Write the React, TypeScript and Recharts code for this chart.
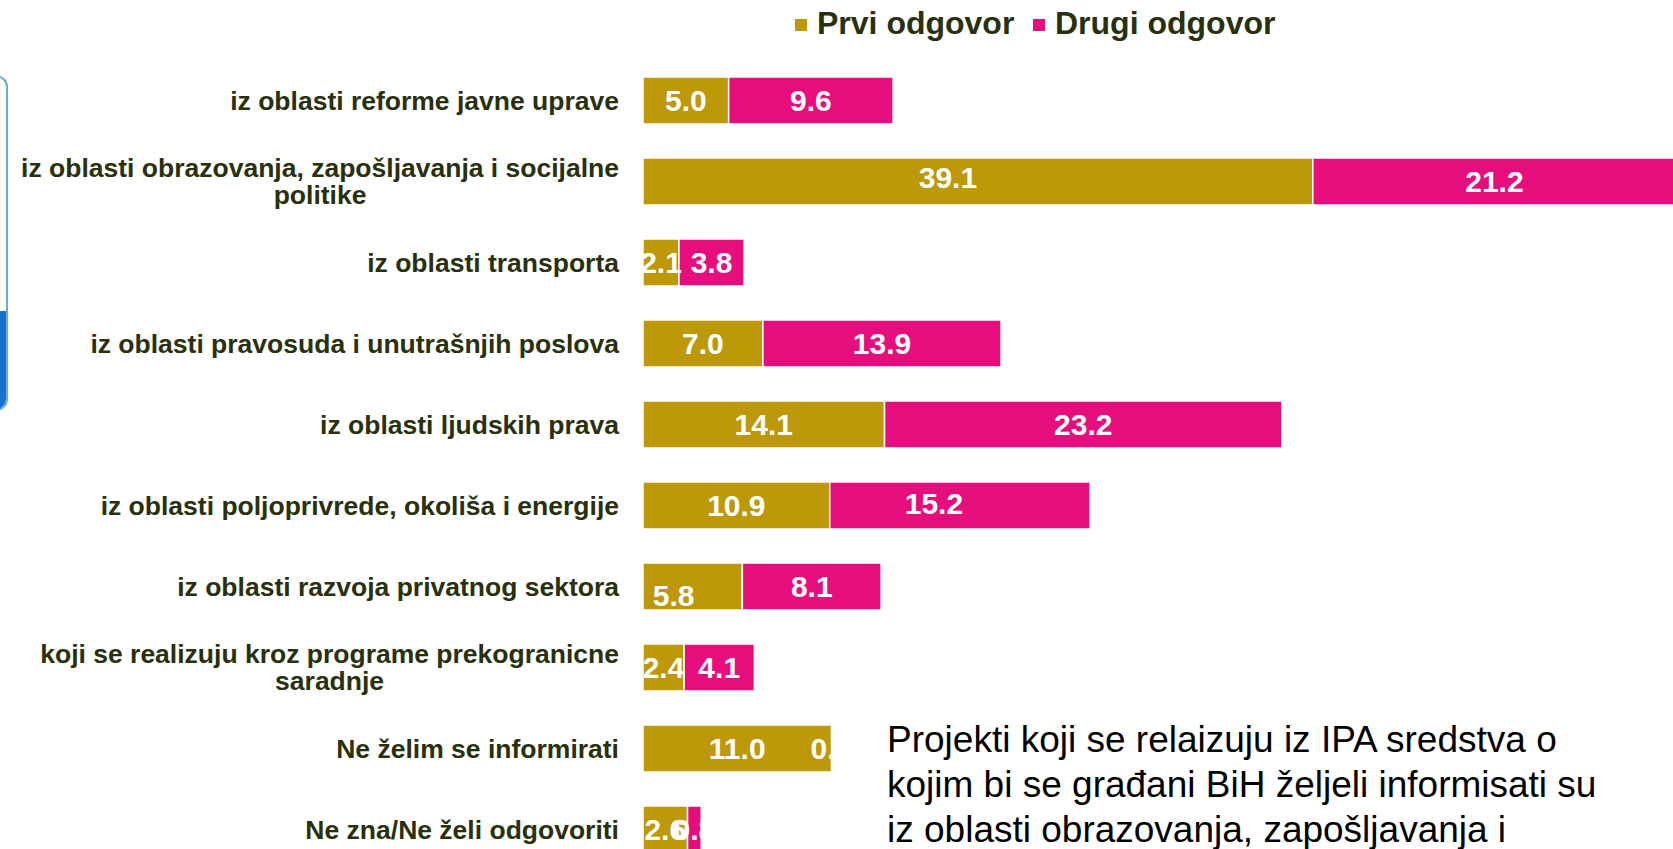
import React from 'react';
import { BarChart, Bar, XAxis, YAxis, Legend, LabelList } from 'recharts';

const categories = [
  'iz oblasti reforme javne uprave',
  'iz oblasti obrazovanja, zapošljavanja i socijalne\npolitike',
  'iz oblasti transporta',
  'iz oblasti pravosuda i unutrašnjih poslova',
  'iz oblasti ljudskih prava',
  'iz oblasti poljoprivrede, okoliša i energije',
  'iz oblasti razvoja privatnog sektora',
  'koji se realizuju kroz programe prekogranicne\nsaradnje',
  'Ne želim se informirati',
  'Ne zna/Ne želi odgovoriti',
];
const prviOdgovor = [5.0, 39.1, 2.1, 7.0, 14.1, 10.9, 5.8, 2.4, 11.0, 2.6];
const drugiOdgovor = [9.6, 21.2, 3.8, 13.9, 23.2, 15.2, 8.1, 4.1, 0.0, 0.8];
const seriesNames = ['Prvi odgovor', 'Drugi odgovor'];
const noteLines = [
  'Projekti koji se relaizuju iz IPA sredstva o',
  'kojim bi se građani BiH željeli informisati su',
  'iz oblasti obrazovanja, zapošljavanja i',
];

const GOLD = '#BD9808';
const PINK = '#E60E7D';
const TEXT = '#28300C';
const FONT = '"Liberation Sans", Arial, Helvetica, sans-serif';

const data = categories.map((name, i) => ({ name, prvi: prviOdgovor[i], drugi: drugiOdgovor[i] }));

// label nudges (style only, as in the reference layout)
const LABEL_NUDGE: Record<string, { dx: number; dy: number }> = {
  'prvi|iz oblasti razvoja privatnog sektora': { dx: -19, dy: 9 },
  'prvi|iz oblasti obrazovanja, zapošljavanja i socijalne\npolitike': { dx: -30, dy: -4 },
  'drugi|iz oblasti poljoprivrede, okoliša i energije': { dx: -26, dy: -2 },
};

let ctx: CanvasRenderingContext2D | null = null;
function measure(text: string, font: string): number {
  if (!ctx) {
    const c = document.createElement('canvas');
    ctx = c.getContext('2d');
  }
  if (!ctx) return text.length * 14;
  ctx.font = font;
  return ctx.measureText(text).width;
}

const TICK_FONT_SIZE = 26.5;
const LABEL_FONT_SIZE = 30;

function CategoryTick(props: any) {
  const { x, y, payload } = props;
  const lines = String(payload.value).split('\n');
  const font = `bold ${TICK_FONT_SIZE}px ${FONT}`;
  const widths = lines.map((l) => measure(l, font));
  const maxW = Math.max(...widths);
  const right = x - 24;
  const lineH = 27.7;
  const y0 = y - ((lines.length - 1) * lineH) / 2;
  return (
    <g>
      {lines.map((l, i) => (
        <text
          key={i}
          x={right - maxW / 2}
          y={y0 + i * lineH}
          textAnchor="middle"
          dominantBaseline="central"
          fill={TEXT}
          fontFamily={FONT}
          fontWeight="bold"
          fontSize={TICK_FONT_SIZE}
        >
          {l}
        </text>
      ))}
    </g>
  );
}

function labelText(key: string, x: number, y: number, value: number) {
  return (
    <text
      key={key}
      x={x}
      y={y}
      textAnchor="middle"
      dominantBaseline="central"
      fill="#ffffff"
      fontFamily={FONT}
      fontWeight="bold"
      fontSize={LABEL_FONT_SIZE}
    >
      {Number(value).toFixed(1)}
    </text>
  );
}

function makeLabel(series: 'prvi' | 'drugi') {
  return (props: any) => {
    const { x, y, width, height, value, index } = props;
    const cat = categories[index];
    const nudge = LABEL_NUDGE[`${series}|${cat}`] || { dx: 0, dy: 0 };
    const parts = [labelText('a', x + width / 2 + nudge.dx, y + height / 2 + nudge.dy, value)];
    // a zero-length second segment is not drawn by the library: place its label at the stack end
    if (series === 'prvi' && drugiOdgovor[index] === 0) {
      parts.push(labelText('b', x + width, y + height / 2, drugiOdgovor[index]));
    }
    return <g>{parts}</g>;
  };
}

const LEGEND_X = [795, 1033];

function renderLegend(props: any) {
  const payload = [...(props.payload || [])].sort(
    (a: any, b: any) => seriesNames.indexOf(a.value) - seriesNames.indexOf(b.value)
  );
  return (
    <div style={{ position: 'relative', height: 47, fontFamily: FONT }}>
      {payload.map((p: any, i: number) => (
        <div
          key={i}
          style={{
            position: 'absolute',
            left: LEGEND_X[i],
            top: 0,
            height: 47,
            display: 'flex',
            alignItems: 'center',
            whiteSpace: 'nowrap',
          }}
        >
          <div style={{ width: 12, height: 12, background: p.color, marginRight: 10, marginTop: 2 }} />
          <span style={{ fontWeight: 'bold', fontSize: 32, color: TEXT }}>{p.value}</span>
        </div>
      ))}
    </div>
  );
}

export default function App() {
  return (
    <div
      style={{
        position: 'absolute',
        left: 0,
        top: 0,
        width: 1673,
        height: 849,
        overflow: 'hidden',
        background: '#ffffff',
      }}
    >
      {/* left slide decoration */}
      <div
        style={{
          position: 'absolute',
          left: -20,
          top: 75,
          width: 24,
          height: 332,
          border: '2px solid #6FA8DC',
          borderRadius: 12,
          overflow: 'hidden',
        }}
      >
        <div
          style={{
            position: 'absolute',
            left: 16,
            top: 234,
            width: 8,
            height: 98,
            background: '#1873C8',
          }}
        />
      </div>
      <BarChart
        width={1680}
        height={880}
        data={data}
        layout="vertical"
        margin={{ top: 13, right: 4, bottom: 10, left: 0 }}
        barSize={47}
      >
        <XAxis type="number" domain={[0, 60.3]} hide allowDataOverflow />
        <YAxis
          type="category"
          dataKey="name"
          width={643}
          axisLine={false}
          tickLine={false}
          tickSize={0}
          tickMargin={0}
          interval={0}
          tick={<CategoryTick />}
        />
        <Legend
          verticalAlign="top"
          content={renderLegend}
          wrapperStyle={{ position: 'absolute', top: 0, left: 0, width: 1673, height: 47 }}
        />
        <Bar
          dataKey="prvi"
          name={seriesNames[0]}
          stackId="a"
          fill={GOLD}
          stroke="#ffffff"
          strokeWidth={1.5}
          isAnimationActive={false}
        >
          <LabelList dataKey="prvi" content={makeLabel('prvi')} />
        </Bar>
        <Bar
          dataKey="drugi"
          name={seriesNames[1]}
          stackId="a"
          fill={PINK}
          stroke="#ffffff"
          strokeWidth={1.5}
          isAnimationActive={false}
        >
          <LabelList dataKey="drugi" content={makeLabel('drugi')} />
        </Bar>
      </BarChart>
      <div
        style={{
          position: 'absolute',
          left: 887,
          top: 717,
          fontFamily: FONT,
          fontSize: 37,
          lineHeight: '45px',
          color: '#000000',
          whiteSpace: 'nowrap',
        }}
      >
        {noteLines.map((l, i) => (
          <div key={i}>{l}</div>
        ))}
      </div>
    </div>
  );
}
